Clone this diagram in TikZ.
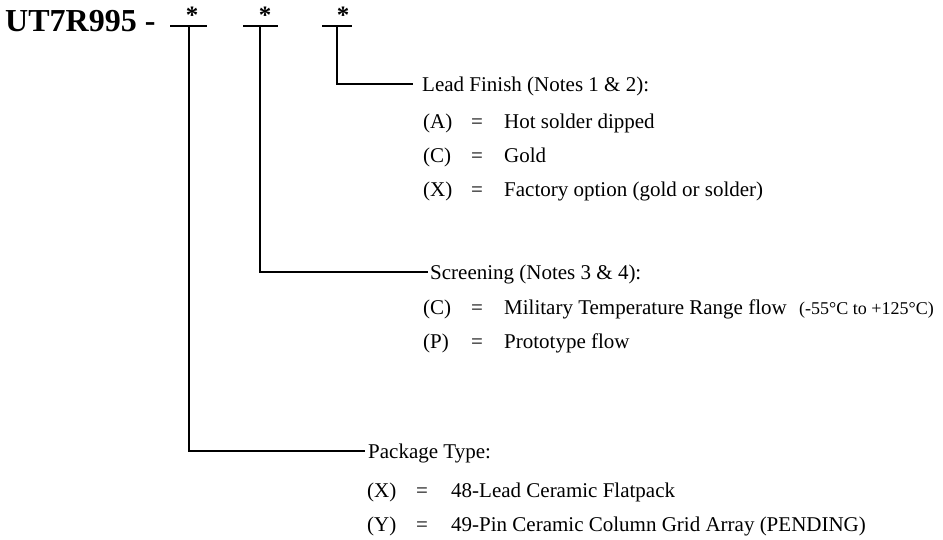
\documentclass[tikz,border=0pt]{standalone}
\usepackage{fontspec}
\setmainfont{Liberation Serif}
\usetikzlibrary{positioning}

\begin{document}
\begin{tikzpicture}[x=1pt,y=-1pt,
  txt/.style={inner sep=0pt,font=\fontsize{21}{24}\selectfont},
  hdr/.style={txt,anchor=west,text height=14pt,text depth=0pt},
  opt/.style={txt,anchor=base west},
  star/.style={inner sep=0pt,font=\bfseries\fontsize{25}{28}\selectfont},
  lead/.style={line width=2pt}]
\useasboundingbox (0,0) rectangle (943,539);
% part number with three option fields
\node[anchor=base west,inner sep=0pt,font=\bfseries\fontsize{32}{36}\selectfont] (pn) at (5,31) {UT7R995 -};
\node[star] (s1) at (192,15) {*};
\node[star] (s2) at (265,15) {*};
\node[star] (s3) at (343,15) {*};
\draw[line width=1.5pt] (170,26) -- (207,26);
\draw[line width=1.5pt] (243,26) -- (278,26);
\draw[line width=1.5pt] (322,26) -- (352,26);
\coordinate (k1) at (189,26);
\coordinate (k2) at (260,26);
\coordinate (k3) at (337,26);

% lead finish
\node[hdr] (lf) at (422,84) {Lead Finish (Notes 1 \& 2):};
\foreach \k/\d [count=\i] in {A/Hot solder dipped, C/Gold, X/Factory option (gold or solder)} {
  \node[opt] (lfk\i) at (423,{94+34*\i}) {(\k)};
  \node[opt] (lfe\i) at (471,{94+34*\i}) {=};
  \node[opt] (lfd\i) at (504,{94+34*\i}) {\d};
}
\draw[lead,shorten >=9pt] (k3) |- (lf.west);

% screening
\node[hdr] (sc) at (430,272) {Screening (Notes 3 \& 4):};
\node[opt] (sck1) at (423,314) {(C)};
\node[opt] (sce1) at (471,314) {=};
\node[opt] (scd1) at (504,314) {Military Temperature Range flow};
\node[opt,font=\fontsize{18}{21}\selectfont] (sct) at (799,314) {(-55°C to +125°C)};
\node[opt] (sck2) at (423,348) {(P)};
\node[opt] (sce2) at (471,348) {=};
\node[opt] (scd2) at (504,348) {Prototype flow};
\draw[lead,shorten >=2pt] (k2) |- (sc.west);

% package type
\node[hdr] (pk) at (368,451) {Package Type:};
\foreach \k/\d [count=\i] in {X/48-Lead Ceramic Flatpack, Y/49-Pin Ceramic Column Grid Array (PENDING)} {
  \node[opt] (pkk\i) at (367,{463+34*\i}) {(\k)};
  \node[opt] (pke\i) at (416,{463+34*\i}) {=};
  \node[opt] (pkd\i) at (451,{463+34*\i}) {\d};
}
\draw[lead,shorten >=3pt] (k1) |- (pk.west);
\end{tikzpicture}
\end{document}
